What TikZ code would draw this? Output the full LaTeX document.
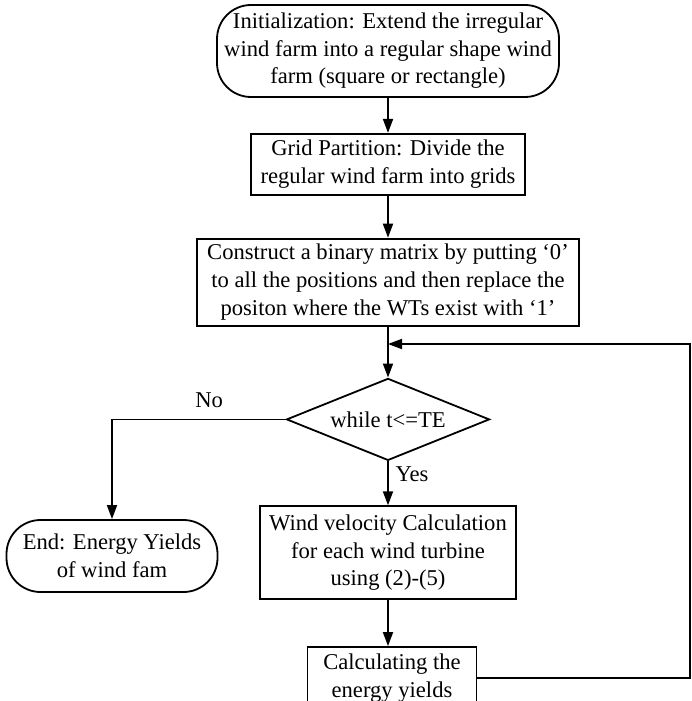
\documentclass[tikz,border=0pt]{standalone}
\usepackage{fontspec}
\setmainfont{Liberation Serif}
\usetikzlibrary{shapes.geometric, arrows.meta, positioning}
\tikzset{
  >=Triangle,
  flowarrow/.style={-{Triangle[length=7pt, width=5pt]}, line width=0.9pt},
  procbox/.style={draw, line width=0.9pt, align=center, inner sep=2pt},
  termbox/.style={procbox, rounded corners=17pt},
  decision/.style={procbox, diamond, aspect=2.5, inner sep=0pt}
}

\begin{document}
\begin{tikzpicture}[x=0.5pt, y=-0.5pt, font=\fontsize{11.3}{13.8}\selectfont]
    \useasboundingbox (0,0) rectangle (691,701);
    \node (init) [termbox, minimum width=171pt, minimum height=46pt] at (388,51) {Initialization: Extend the irregular\\ wind farm into a regular shape wind\\ farm (square or rectangle)};
    \node (grid) [procbox, minimum width=137pt, minimum height=30.5pt, below=17.5pt of init] {Grid Partition: Divide the\\ regular wind farm into grids};
    \node (binmat) [procbox, minimum width=191pt, minimum height=43.5pt, below=21pt of grid] {Construct a binary matrix by putting `0'\\ to all the positions and then replace the\\ positon where the WTs exist with `1'};
    \node (cond) [decision, minimum width=101.5pt, minimum height=41pt, below=25.5pt of binmat] {while t<=TE};
    \node (velo) [procbox, minimum width=128pt, minimum height=46.5pt, below=22pt of cond] {Wind velocity Calculation\\ for each wind turbine\\ using (2)-(5)};
    \node (energy) [procbox, minimum width=84.5pt, minimum height=31pt, below=23pt of velo, xshift=2pt] {Calculating the\\ energy yields};
    \node (finish) [termbox, minimum width=105.5pt, minimum height=36pt] at (112,556) {End: Energy Yields\\ of wind fam};
    \coordinate (join) at (388,344);
    \coordinate (loop) at (690,344);
    \draw[flowarrow] (init) -- (grid);
    \draw[flowarrow] (grid) -- (binmat);
    \draw[flowarrow] (binmat) -- (cond);
    \draw[flowarrow] (cond) -- (velo) node[pos=0.3, right=0pt] {Yes};
    \draw[flowarrow] (velo) -- (velo.south |- energy.north);
    \draw[flowarrow] (cond.west) -| (finish.north) node[pos=0.22, above=2pt] {No};
    \draw[flowarrow] (energy.east) -| (loop) -- (join);
\end{tikzpicture}
\end{document}
